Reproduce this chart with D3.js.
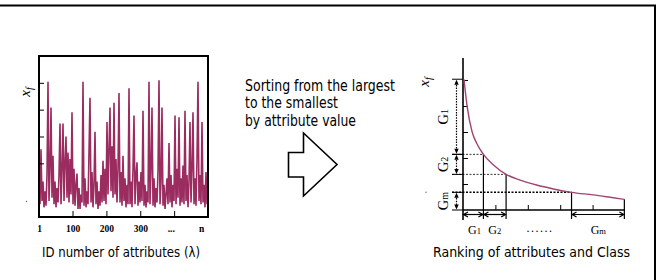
<!DOCTYPE html>
<html>
<head>
<meta charset="utf-8">
<script src="https://cdn.jsdelivr.net/npm/d3@7/dist/d3.min.js"></script>
<style>
  html, body { margin: 0; padding: 0; background: #fff; }
  svg { display: block; }
</style>
</head>
<body>
<div id="chart"></div>
<script>
// ---- data ----
// raw attribute values x_f (one sample every ~3 IDs)
var rawValues = [
	30, 8, 42, 10, 22, 6, 16, 7, 26, 84,
	10, 30, 68, 12, 38, 8, 22, 6, 18, 9,
	26, 58, 8, 30, 58, 10, 34, 50, 12, 40,
	9, 36, 14, 65, 8, 30, 7, 20, 27, 5,
	18, 5, 14, 9, 84, 7, 24, 6, 16, 8,
	40, 74, 9, 28, 6, 20, 53, 8, 22, 5,
	16, 7, 26, 9, 35, 10, 30, 8, 59, 14,
	42, 68, 16, 44, 12, 71, 14, 36, 9, 30,
	77, 9, 28, 7, 38, 10, 24, 6, 20, 8,
	80, 8, 22, 6, 30, 63, 8, 26, 34, 7,
	22, 9, 28, 10, 66, 7, 20, 6, 16, 9,
	84, 8, 30, 68, 7, 24, 6, 18, 9, 28,
	85, 8, 22, 68, 7, 20, 5, 14, 24, 8,
	46, 9, 26, 6, 20, 10, 63, 8, 30, 12,
	62, 7, 24, 9, 32, 8, 66, 10, 26, 6,
	22, 59, 9, 30, 65, 8, 24, 7, 36, 84,
	10, 26, 8, 59, 9, 20, 6, 28, 8, 18
];
var rawIdFirst = 1, rawIdLast = 500;
var rawTickIds = [100, 200, 300, 400];
var rawLabelIds = [1, 100, 200, 300, 390, 480];
var rawLabels = ['1', '100', '200', '300', '...', 'n'];
var rawYTicks = [100 / 3, 50, 200 / 3, 250 / 3];

// sorted curve (right panel): rank position and value
var sortedRank = [0.03, 0.13, 0.28, 0.43, 0.63, 0.94, 1.33, 1.76, 2.27, 2.79, 3.35, 4.02, 4.64, 4.98];
var sortedValue = [5.03, 3.97, 3.01, 2.55, 2.14, 1.73, 1.37, 1.15, 0.96, 0.81, 0.68, 0.58, 0.47, 0.41];
var sortedYTicks = [1, 2, 3, 4, 5];
var sortedXTicks = [1, 2, 3, 4];

// groups (classes) cut from the sorted curve
var groupNames = ['G', 'G', 'G'];
var groupSubs = ['1', '2', 'm'];
var groupRankStart = [0, 0.63, 3.35];
var groupRankEnd = [0.63, 1.33, 4.98];
var groupValTop = [5.03, 2.14, 0.68];
var groupValBottom = [2.14, 1.37, 0];

var textLines = ['Sorting from the largest', 'to the smallest', 'by attribute value'];

// ---- setup ----
var svg = d3.select('#chart')
	.append('svg')
	.attr('width', 660)
	.attr('height', 280)
	.style('background', '#fff');

// outer frame (top + right only)
svg.append('path')
	.attr('d', 'M0,5.5H655V280')
	.attr('fill', 'none')
	.attr('stroke', '#000')
	.attr('stroke-width', 2);

var serif = '"Liberation Serif", "DejaVu Serif", serif';
var sans = '"DejaVu Sans Condensed", "DejaVu Sans", sans-serif';

// ---- left panel: raw values ----
var box = {x0: 39, x1: 208, y0: 56, y1: 217};
var xL = d3.scaleLinear().domain([rawIdFirst, rawIdLast]).range([box.x0, box.x1]);
var yL = d3.scaleLinear().domain([0, 100]).range([box.y1, box.y0]);

svg.append('clipPath')
	.attr('id', 'clip-left')
	.append('rect')
	.attr('x', box.x0).attr('y', box.y0)
	.attr('width', box.x1 - box.x0).attr('height', box.y1 - box.y0);

var stepId = (rawIdLast - rawIdFirst) / (rawValues.length - 1);
svg.append('path')
	.datum(rawValues)
	.attr('clip-path', 'url(#clip-left)')
	.attr('fill', 'none')
	.attr('stroke', '#9a2c5f')
	.attr('stroke-width', 1.6)
	.attr('stroke-linejoin', 'miter')
	.attr('d', d3.line()
		.x(function(d, i) { return xL(rawIdFirst + i * stepId); })
		.y(function(d) { return yL(d); }));

svg.append('rect')
	.attr('x', box.x0).attr('y', box.y0)
	.attr('width', box.x1 - box.x0).attr('height', box.y1 - box.y0)
	.attr('fill', 'none')
	.attr('stroke', '#000')
	.attr('stroke-width', 2);

var gyL = svg.append('g')
	.attr('transform', 'translate(' + box.x0 + ',0)')
	.call(d3.axisLeft(yL).tickValues(rawYTicks).tickSize(-5).tickFormat(''));
gyL.select('.domain').remove();

var gxL = svg.append('g')
	.attr('transform', 'translate(0,' + box.y1 + ')')
	.call(d3.axisBottom(xL).tickValues(rawTickIds).tickSize(-6).tickFormat(''));
gxL.select('.domain').remove();

var gxLab = svg.append('g')
	.attr('transform', 'translate(0,' + box.y1 + ')')
	.call(d3.axisBottom(xL).tickValues(rawLabelIds).tickSize(0).tickPadding(8)
		.tickFormat(function(d, i) { return rawLabels[i]; }));
gxLab.select('.domain').remove();
gxLab.selectAll('text')
	.attr('font-family', serif)
	.attr('font-weight', 'bold')
	.attr('font-size', 9.5)
	.attr('fill', '#000');

[gyL, gxL].forEach(function(g) {
	g.selectAll('.tick line').attr('stroke', '#000').attr('stroke-width', 1);
});

// axis title x_f (rotated)
var xfL = svg.append('text')
	.attr('transform', 'translate(30,92) rotate(-90)')
	.attr('text-anchor', 'middle')
	.attr('font-family', serif)
	.attr('font-style', 'italic')
	.attr('font-size', 15);
xfL.append('tspan').text('x');
xfL.append('tspan').attr('font-size', 10).attr('dy', 3).text('f');

svg.append('text')
	.attr('x', 42).attr('y', 256.5)
	.attr('font-family', sans)
	.attr('font-size', 14.5)
	.attr('textLength', 158)
	.attr('lengthAdjust', 'spacingAndGlyphs')
	.text('ID number of attributes (\u03bb)');

svg.append('circle').attr('cx', 26.5).attr('cy', 201.5).attr('r', 0.7).attr('fill', '#666');

// ---- middle: caption + arrow ----
var lineWidths = [150, 93, 111];
var lineBase = [90.5, 108.3, 126];
textLines.forEach(function(t, i) {
	svg.append('text')
		.attr('x', 245).attr('y', lineBase[i])
		.attr('font-family', sans)
		.attr('font-size', 15)
		.attr('textLength', lineWidths[i])
		.attr('lengthAdjust', 'spacingAndGlyphs')
		.text(t);
});

svg.append('path')
	.attr('d', 'M288.5,152.5H303.5V133L337,164.5L303.5,196V177H288.5Z')
	.attr('fill', '#fff')
	.attr('stroke', '#000')
	.attr('stroke-width', 1.6)
	.attr('stroke-linejoin', 'miter');

// ---- right panel: sorted values ----
var xR = d3.scaleLinear().domain([0, 5]).range([463, 625]);
var yR = d3.scaleLinear().domain([0, 5]).range([210, 80]);

// axes lines
svg.append('line')
	.attr('x1', xR(0)).attr('x2', xR(0))
	.attr('y1', yR(5.85)).attr('y2', 220)
	.attr('stroke', '#000').attr('stroke-width', 1.6);
svg.append('line')
	.attr('x1', xR(0)).attr('x2', xR(5))
	.attr('y1', yR(0)).attr('y2', yR(0))
	.attr('stroke', '#000').attr('stroke-width', 1.6);

var gyR = svg.append('g')
	.attr('transform', 'translate(' + xR(0) + ',0)')
	.call(d3.axisLeft(yR).tickValues(sortedYTicks).tickSize(-5).tickFormat(''));
gyR.select('.domain').remove();
var gxR = svg.append('g')
	.attr('transform', 'translate(0,' + yR(0) + ')')
	.call(d3.axisBottom(xR).tickValues(sortedXTicks).tickSize(-5).tickFormat(''));
gxR.select('.domain').remove();
[gyR, gxR].forEach(function(g) {
	g.selectAll('.tick line').attr('stroke', '#000').attr('stroke-width', 1);
});

// dashed guides from y-axis to curve at the group cuts
var cutRank = [0.63, 1.33, 3.35];
var cutValue = [2.14, 1.37, 0.68];
cutRank.forEach(function(r, i) {
	svg.append('line')
		.attr('x1', 452).attr('x2', xR(r))
		.attr('y1', yR(cutValue[i])).attr('y2', yR(cutValue[i]))
		.attr('stroke', '#000')
		.attr('stroke-width', i === 2 ? 1.4 : 0.8)
		.attr('stroke-dasharray', '2,1.5');
});

// vertical cut lines from curve down past the axis
var vRank = [0.63, 1.33, 3.35, 4.98];
var vValue = [2.14, 1.37, 0.68, 0.41];
vRank.forEach(function(r, i) {
	svg.append('line')
		.attr('x1', xR(r)).attr('x2', xR(r))
		.attr('y1', yR(vValue[i])).attr('y2', 219)
		.attr('stroke', '#000').attr('stroke-width', 1.2);
});

// the sorted curve
svg.append('path')
	.datum(sortedRank)
	.attr('fill', 'none')
	.attr('stroke', '#a04573')
	.attr('stroke-width', 1.4)
	.attr('d', d3.line()
		.curve(d3.curveMonotoneX)
		.x(function(d) { return xR(d); })
		.y(function(d, i) { return yR(sortedValue[i]); }));

// vertical group extents (left of the y-axis)
var ax = 456.5;
function headV(x, y, dir) {
	// dir -1 = pointing up, 1 = pointing down
	return 'M' + (x - 2.2) + ',' + (y - dir * 5) + 'L' + x + ',' + y + 'L' + (x + 2.2) + ',' + (y - dir * 5) + 'Z';
}
groupNames.forEach(function(g, i) {
	var yt = yR(groupValTop[i]), yb = yR(groupValBottom[i]);
	svg.append('line')
		.attr('x1', ax).attr('x2', ax)
		.attr('y1', yt + 3).attr('y2', yb - 3)
		.attr('stroke', '#000').attr('stroke-width', 1.2)
		.attr('stroke-dasharray', '1.5,1.2');
	svg.append('path').attr('d', headV(ax, yt + 0.5, -1)).attr('fill', '#000');
	svg.append('path').attr('d', headV(ax, yb - 0.5, 1)).attr('fill', '#000');
	[yt, yb].forEach(function(y) {
		svg.append('line')
			.attr('x1', 452).attr('x2', 463)
			.attr('y1', y).attr('y2', y)
			.attr('stroke', '#000').attr('stroke-width', 1);
	});
	var lab = svg.append('text')
		.attr('transform', 'translate(448,' + ((yt + yb) / 2) + ') rotate(-90)')
		.attr('text-anchor', 'middle')
		.attr('font-family', serif)
		.attr('font-size', 14.5);
	lab.append('tspan').text(g);
	lab.append('tspan').attr('font-size', 10).text(groupSubs[i]);
});

// horizontal group extents (under the x-axis)
var ay = 214.5;
function chevron(x, y, dir) {
	return 'M' + (x - dir * 4.5) + ',' + (y - 2.6) + 'L' + x + ',' + y + 'L' + (x - dir * 4.5) + ',' + (y + 2.6);
}
groupNames.forEach(function(g, i) {
	var xa = xR(groupRankStart[i]) + 0.5, xb = xR(groupRankEnd[i]) - 0.5;
	svg.append('line')
		.attr('x1', xa).attr('x2', xb)
		.attr('y1', ay).attr('y2', ay)
		.attr('stroke', '#000').attr('stroke-width', 1.2);
	svg.append('path').attr('d', chevron(xa, ay, -1))
		.attr('fill', 'none').attr('stroke', '#000').attr('stroke-width', 1.2);
	svg.append('path').attr('d', chevron(xb, ay, 1))
		.attr('fill', 'none').attr('stroke', '#000').attr('stroke-width', 1.2);
});

var bottomLabelX = [474.5, 494.7, 598.3];
groupNames.forEach(function(g, i) {
	var t = svg.append('text')
		.attr('x', bottomLabelX[i]).attr('y', 234)
		.attr('text-anchor', 'middle')
		.attr('font-family', serif)
		.attr('font-size', 12);
	t.append('tspan').text(g);
	t.append('tspan').attr('font-size', 8.5).text(groupSubs[i]);
});
svg.append('text')
	.attr('x', 540).attr('y', 232)
	.attr('text-anchor', 'middle')
	.attr('font-family', serif)
	.attr('font-size', 12)
	.attr('letter-spacing', 1.5)
	.text('......');

// axis title x_f (rotated)
var xfR = svg.append('text')
	.attr('transform', 'translate(429,82) rotate(-90)')
	.attr('text-anchor', 'middle')
	.attr('font-family', serif)
	.attr('font-style', 'italic')
	.attr('font-size', 15);
xfR.append('tspan').text('x');
xfR.append('tspan').attr('font-size', 10).attr('dy', 3).text('f');

svg.append('circle').attr('cx', 426).attr('cy', 192.3).attr('r', 0.7).attr('fill', '#666');

svg.append('text')
	.attr('x', 433).attr('y', 257)
	.attr('font-family', sans)
	.attr('font-size', 14.5)
	.attr('textLength', 197)
	.attr('lengthAdjust', 'spacingAndGlyphs')
	.text('Ranking of attributes and Class');
</script>
</body>
</html>
